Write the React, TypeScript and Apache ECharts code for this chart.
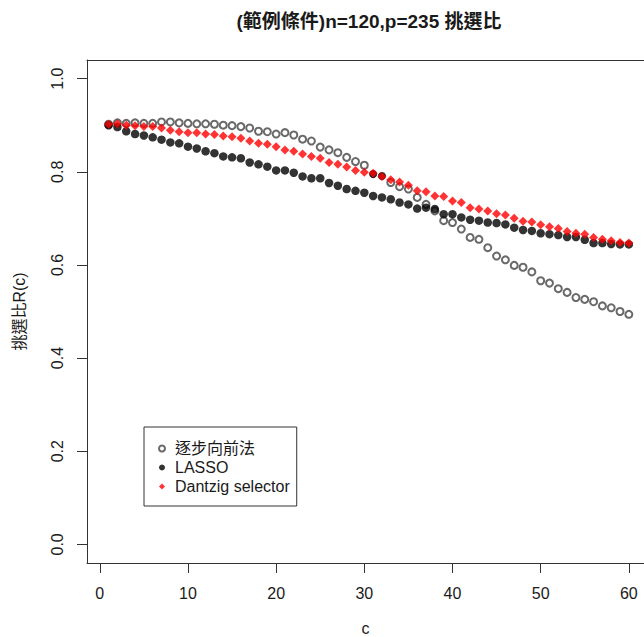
import React, { useEffect, useRef } from "react";
import * as echarts from "echarts";

// c values (number of candidate steps)
const cValues = [
  1, 2, 3, 4, 5, 6, 7, 8, 9, 10, 11, 12, 13, 14, 15, 16, 17, 18, 19, 20,
  21, 22, 23, 24, 25, 26, 27, 28, 29, 30, 31, 32, 33, 34, 35, 36, 37, 38, 39, 40,
  41, 42, 43, 44, 45, 46, 47, 48, 49, 50, 51, 52, 53, 54, 55, 56, 57, 58, 59, 60,
];

// selection ratio R(c) — forward stepwise
const stepwise = [
  0.902, 0.905, 0.904, 0.905, 0.904, 0.904, 0.907, 0.907, 0.905, 0.904,
  0.903, 0.903, 0.902, 0.900, 0.899, 0.897, 0.894, 0.887, 0.886, 0.881,
  0.884, 0.879, 0.870, 0.866, 0.853, 0.847, 0.841, 0.831, 0.822, 0.814,
  0.795, 0.791, 0.777, 0.768, 0.763, 0.745, 0.730, 0.716, 0.695, 0.691,
  0.677, 0.659, 0.655, 0.637, 0.619, 0.611, 0.599, 0.595, 0.585, 0.566,
  0.561, 0.549, 0.541, 0.530, 0.526, 0.521, 0.512, 0.508, 0.500, 0.494,
];

// selection ratio R(c) — LASSO
const lasso = [
  0.900, 0.896, 0.887, 0.881, 0.878, 0.874, 0.869, 0.863, 0.861, 0.854,
  0.850, 0.844, 0.840, 0.833, 0.831, 0.829, 0.820, 0.816, 0.811, 0.803,
  0.803, 0.798, 0.790, 0.786, 0.786, 0.776, 0.770, 0.763, 0.759, 0.755,
  0.748, 0.745, 0.741, 0.734, 0.730, 0.721, 0.723, 0.720, 0.709, 0.709,
  0.702, 0.697, 0.695, 0.691, 0.690, 0.687, 0.680, 0.675, 0.673, 0.668,
  0.666, 0.664, 0.660, 0.660, 0.654, 0.647, 0.647, 0.645, 0.644, 0.644,
];

// selection ratio R(c) — Dantzig selector
const dantzig = [
  0.902, 0.903, 0.900, 0.899, 0.897, 0.897, 0.894, 0.889, 0.886, 0.884,
  0.884, 0.881, 0.880, 0.877, 0.875, 0.872, 0.866, 0.861, 0.859, 0.854,
  0.847, 0.844, 0.838, 0.833, 0.829, 0.820, 0.816, 0.810, 0.803, 0.799,
  0.797, 0.790, 0.783, 0.778, 0.771, 0.759, 0.757, 0.748, 0.747, 0.737,
  0.734, 0.723, 0.720, 0.716, 0.710, 0.707, 0.700, 0.694, 0.692, 0.686,
  0.682, 0.678, 0.672, 0.668, 0.666, 0.659, 0.655, 0.652, 0.648, 0.647,
];

// stepwise points rendered as solid dots
const stepwiseSolidAt = [31, 32];

const seriesNames = ["逐步向前法", "LASSO", "Dantzig selector"];
const xTicks = [0, 10, 20, 30, 40, 50, 60];
const yTicks = [0, 0.2, 0.4, 0.6, 0.8, 1.0];
const titleText = "(範例條件)n=120,p=235 挑選比";
const xName = "c";
const yName = "挑選比R(c)";

const FONT = '"Liberation Sans", Arial, "Noto Sans CJK TC", sans-serif';
const INK = "#1a1a1a";
const FRAME = "#333";

const X_MIN = -1.45;
const X_MAX = 61.72;

export default function App() {
  const ref = useRef<HTMLDivElement>(null);

  useEffect(() => {
    if (!ref.current) return;
    const chart = echarts.init(ref.current, undefined, { renderer: "svg" });

    const stepData = cValues.map((c, i) =>
      stepwiseSolidAt.includes(c)
        ? { value: [c, stepwise[i]], symbol: "circle", itemStyle: { color: "#000", borderColor: "#000" } }
        : { value: [c, stepwise[i]] }
    );

    chart.setOption({
      animation: false,
      backgroundColor: "#fff",
      textStyle: { fontFamily: FONT },
      grid: {
        left: 87,
        top: 60,
        right: 0,
        height: 503,
        containLabel: false,
        outerBoundsMode: "none",
      },
      graphic: [
        {
          type: "text",
          x: 369,
          y: 21,
          style: {
            text: titleText,
            fontFamily: FONT,
            fontSize: 19,
            fontWeight: "bold",
            fill: INK,
            textAlign: "center",
            textVerticalAlign: "middle",
          },
        },
      ],
      legend: {
        orient: "vertical",
        left: 144,
        top: 427,
        padding: [12, 7, 10, 14],
        itemGap: 0,
        itemWidth: 6,
        itemHeight: 6,
        borderColor: FRAME,
        borderWidth: 1,
        backgroundColor: "#fff",
        textStyle: { fontFamily: FONT, fontSize: 16, color: INK, lineHeight: 19, padding: [0, 0, 0, 5] },
        data: [
          { name: seriesNames[0], icon: "emptyCircle" },
          { name: seriesNames[1], icon: "circle" },
          { name: seriesNames[2], icon: "diamond" },
        ],
      },
      xAxis: [
        {
          type: "value",
          position: "bottom",
          min: X_MIN,
          max: X_MAX,
          name: xName,
          nameLocation: "middle",
          nameGap: 57,
          nameMoveOverlap: false,
          nameTextStyle: { fontFamily: FONT, fontSize: 16, color: INK },
          axisLine: { show: true, onZero: false, lineStyle: { color: FRAME, width: 1 } },
          splitLine: { show: false },
          axisTick: {
            show: true,
            length: 10,
            inside: false,
            customValues: xTicks,
            lineStyle: { color: FRAME },
          },
          axisLabel: {
            customValues: xTicks,
            margin: 22,
            fontFamily: FONT,
            fontSize: 16,
            color: INK,
          },
        },
        {
          // top edge of the plot frame
          type: "value",
          position: "top",
          min: X_MIN,
          max: X_MAX,
          axisLine: { show: true, onZero: false, lineStyle: { color: FRAME, width: 1 } },
          axisTick: { show: false },
          axisLabel: { show: false },
          splitLine: { show: false },
        },
      ],
      yAxis: {
        type: "value",
        min: -0.04,
        max: 1.04,
        name: yName,
        nameLocation: "middle",
        nameGap: 60,
        nameRotate: 90,
        nameTextStyle: { fontFamily: FONT, fontSize: 16, color: INK },
        axisLine: { show: true, onZero: false, lineStyle: { color: FRAME, width: 1 } },
        splitLine: { show: false },
        axisTick: {
          show: true,
          length: 10,
          inside: false,
          customValues: yTicks,
          lineStyle: { color: FRAME },
        },
        axisLabel: {
          customValues: yTicks,
          rotate: 90,
          margin: 22,
          fontFamily: FONT,
          fontSize: 16,
          color: INK,
          formatter: (v: number) => v.toFixed(1),
        },
      },
      series: [
        {
          name: seriesNames[0],
          type: "scatter",
          symbol: "emptyCircle",
          symbolSize: 7,
          itemStyle: { color: "#444", borderColor: "#444", borderWidth: 1.1 },
          data: stepData,
        },
        {
          name: seriesNames[1],
          type: "scatter",
          symbol: "circle",
          symbolSize: 8.5,
          itemStyle: { color: "#000" },
          data: cValues.map((c, i) => [c, lasso[i]]),
        },
        {
          name: seriesNames[2],
          type: "scatter",
          symbol: "diamond",
          symbolSize: 9,
          itemStyle: { color: "#ff0000" },
          data: cValues.map((c, i) => [c, dantzig[i]]),
        },
      ],
    });

    return () => chart.dispose();
  }, []);

  return (
    <div
      ref={ref}
      style={{ position: "absolute", left: 0, top: 0, width: 644, height: 637 }}
    />
  );
}
